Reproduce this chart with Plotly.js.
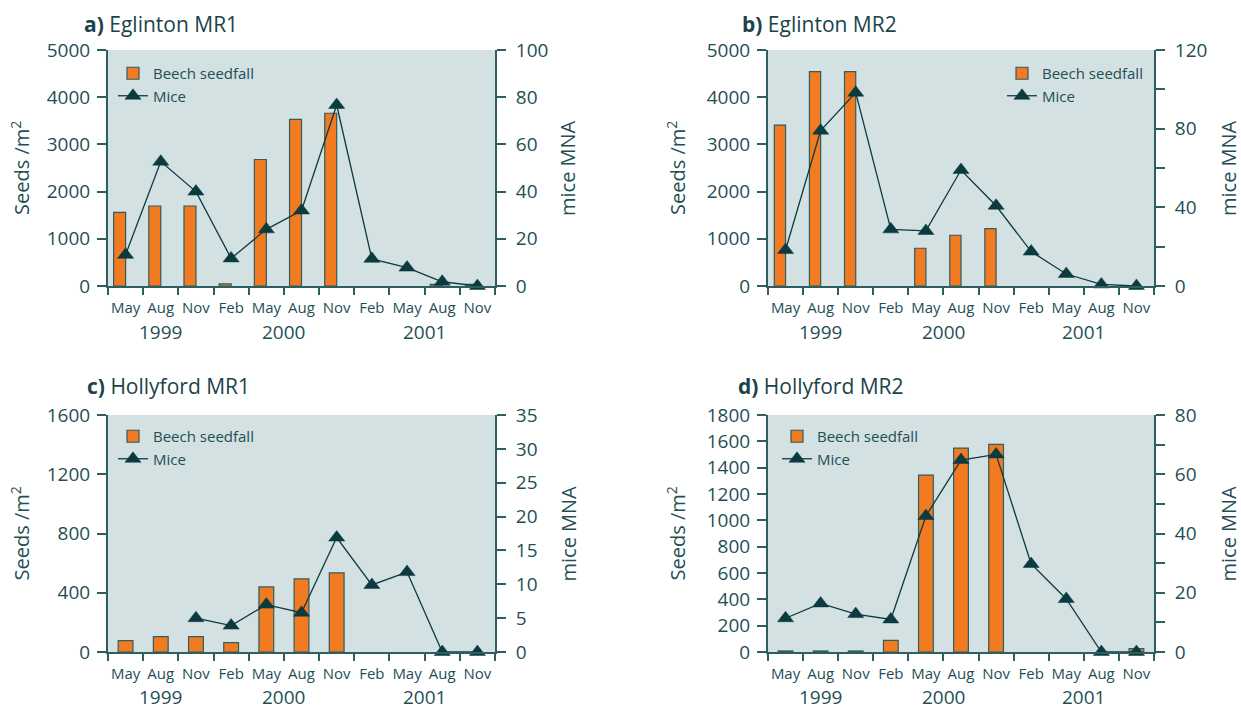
<!DOCTYPE html>
<html>
<head>
<meta charset="utf-8">
<script src="https://cdn.plot.ly/plotly-3.0.1.min.js"></script>
<style>html,body{margin:0;padding:0;background:#fff;}#chart{width:1241px;height:711px;}</style>
</head>
<body>
<div id="chart"></div>
<script>
// ---------- data ----------
const months = ['May','Aug','Nov','Feb','May','Aug','Nov','Feb','May','Aug','Nov'];
const years  = [1999,1999,1999,2000,2000,2000,2000,2001,2001,2001,2001];

const panelTitles = ['a)|Eglinton MR1','b)|Eglinton MR2','c)|Hollyford MR1','d)|Hollyford MR2'];

const seedsA = [1560, 1695, 1695, 45, 2680, 3530, 3660, null, null, 35, 35];
const miceA  = [13.2, 52.7, 40, 11.7, 24, 32, 76.7, 11.5, 7.8, 1.8, 0];

const seedsB = [3410, 4540, 4540, null, 800, 1075, 1215, null, null, null, null];
const miceB  = [18.3, 79, 98.3, 28.8, 28, 59, 40.8, 17.5, 6.1, 0.8, 0];

const seedsC = [77, 104, 104, 63, 439, 494, 534, null, null, null, null];
const miceC  = [null, null, 5.0, 3.9, 7.0, 5.8, 16.9, 9.9, 11.8, 0, 0];

const seedsD = [8, 8, 8, 89, 1344, 1549, 1577, null, null, null, 25];
const miceD  = [11.4, 16.4, 12.8, 11, 45.9, 64.8, 66.7, 29.7, 17.9, 0, 0];

const seedName = 'Beech seedfall';
const miceName = 'Mice';
const leftTitle = 'Seeds /m<sup>2</sup>';
const rightTitle = 'mice MNA';

// ---------- styling / layout ----------
const W = 1241, H = 711;
const px = v => v / W;
const py = v => 1 - v / H;

const FONT = '"Open Sans", "Noto Sans", sans-serif';
const TXT = '#1f4f55';
const AX = '#2e5d62';
const BG = '#d3e1e3';
const ORANGE = '#f27a20';
const MICE = '#0c3b3f';

const panels = [
  {seeds: seedsA, mice: miceA, sMax: 5000, sTick: 1000, mMax: 100, mTick: 20, mLab: 20,
   bw: 0.34, bo: -0.34, x0: 108, x1: 495, y0: 50, y1: 286, titleX: 82, titleY: 24,
   lTx: 20, rTx: 567, legX: 113, legY: 57, yearY: 332},
  {seeds: seedsB, mice: miceB, sMax: 5000, sTick: 1000, mMax: 120, mTick: 20, mLab: 40,
   bw: 0.32, bo: -0.32, x0: 768, x1: 1154, y0: 50, y1: 286, titleX: 740, titleY: 24,
   lTx: 676, rTx: 1228, legX: 1002, legY: 57, yearY: 332},
  {seeds: seedsC, mice: miceC, sMax: 1600, sTick: 400, mMax: 35, mTick: 5, mLab: 5,
   bw: 0.42, bo: null, x0: 108, x1: 495, y0: 415, y1: 652, titleX: 85, titleY: 386,
   lTx: 20, rTx: 568, legX: 113, legY: 420, yearY: 697},
  {seeds: seedsD, mice: miceD, sMax: 1800, sTick: 200, mMax: 80, mTick: 10, mLab: 20,
   bw: 0.42, bo: null, x0: 768, x1: 1154, y0: 415, y1: 652, titleX: 736, titleY: 386,
   lTx: 676, rTx: 1228, legX: 777, legY: 420, yearY: 697}
];

const xIdx = months.map((_, i) => i);
const traces = [];
const layout = {
  width: W, height: H,
  margin: {l: 0, r: 0, t: 0, b: 0},
  paper_bgcolor: '#ffffff',
  font: {family: FONT, color: TXT},
  showlegend: true,
  annotations: [],
  shapes: [],
  bargap: 0
};

function range(max, step) {
  const out = [];
  for (let v = 0; v <= max + 1e-9; v += step) out.push(+v.toFixed(6));
  return out;
}

// year label centres: mean index of the months belonging to each year
const yearList = [...new Set(years)];
const yearCentres = yearList.map(y => {
  const idx = xIdx.filter(i => years[i] === y);
  return idx.reduce((a, b) => a + b, 0) / idx.length;
});

panels.forEach((p, k) => {
  const n = k + 1;
  const xa = n === 1 ? 'x' : 'x' + n;
  const yl = 'y' + (2 * n - 1 === 1 ? '' : 2 * n - 1);
  const yr = 'y' + (2 * n);
  const leg = n === 1 ? 'legend' : 'legend' + n;

  const bar = {
    type: 'bar', x: xIdx, y: p.seeds, xaxis: xa, yaxis: yl, name: seedName,
    width: p.bw,
    marker: {color: ORANGE, line: {color: AX, width: 1.2}},
    legend: leg, hoverinfo: 'skip'
  };
  if (p.bo !== null) bar.offset = p.bo;
  traces.push(bar);

  traces.push({
    type: 'scatter', mode: 'lines+markers', x: xIdx, y: p.mice, xaxis: xa, yaxis: yr,
    name: miceName, connectgaps: false, cliponaxis: false,
    line: {color: MICE, width: 1.3},
    marker: {symbol: 'triangle-up', size: 14, color: MICE, line: {color: MICE, width: 0.5}},
    legend: leg, hoverinfo: 'skip'
  });

  const xName = n === 1 ? 'xaxis' : 'xaxis' + n;
  const ylName = 'yaxis' + (2 * n - 1 === 1 ? '' : 2 * n - 1);
  const yrName = 'yaxis' + (2 * n);

  layout[xName] = {
    domain: [px(p.x0), px(p.x1)], anchor: yl, range: [-0.5, months.length - 0.5],
    tickmode: 'array', tickvals: xIdx, ticktext: months,
    ticks: 'outside', ticklen: 7, tickcolor: 'rgba(0,0,0,0)',
    tickfont: {size: 15, color: TXT, family: FONT},
    minor: {tick0: -0.5, dtick: 1, ticks: 'outside', ticklen: 7, tickwidth: 2, tickcolor: AX, showgrid: false},
    showline: true, linecolor: AX, linewidth: 2, showgrid: false, zeroline: false, fixedrange: true
  };
  layout[ylName] = {
    domain: [py(p.y1), py(p.y0)], anchor: xa, range: [0, p.sMax],
    tickmode: 'array', tickvals: range(p.sMax, p.sTick),
    ticks: 'outside', ticklen: 9, tickwidth: 2, tickcolor: AX,
    tickfont: {size: 19, color: TXT, family: FONT}, ticklabelstandoff: 3,
    showline: true, linecolor: AX, linewidth: 2, showgrid: false, zeroline: false, fixedrange: true
  };
  const yrAxis = {
    overlaying: yl, side: 'right', anchor: xa, range: [0, p.mMax],
    tickmode: 'array', tickvals: range(p.mMax, p.mLab),
    ticks: 'outside', ticklen: 9, tickwidth: 2, tickcolor: AX,
    tickfont: {size: 19, color: TXT, family: FONT}, ticklabelstandoff: 6,
    showline: true, linecolor: AX, linewidth: 2, showgrid: false, zeroline: false, fixedrange: true
  };
  if (p.mTick !== p.mLab) {
    yrAxis.minor = {tick0: 0, dtick: p.mTick, ticks: 'outside', ticklen: 9, tickwidth: 2, tickcolor: AX, showgrid: false};
  }
  layout[yrName] = yrAxis;

  layout.shapes.push({type: 'rect', xref: 'paper', yref: 'paper', layer: 'below',
    x0: px(p.x0), x1: px(p.x1), y0: py(p.y1), y1: py(p.y0), fillcolor: BG, line: {width: 0}});

  layout[leg] = {
    x: px(p.legX), y: py(p.legY), xanchor: 'left', yanchor: 'top',
    bgcolor: 'rgba(0,0,0,0)', borderwidth: 0, itemwidth: 30, tracegroupgap: 0,
    font: {size: 15, color: TXT, family: FONT}, traceorder: 'normal'
  };

  const [tag, name] = panelTitles[k].split('|');
  layout.annotations.push({
    xref: 'paper', yref: 'paper', x: px(p.titleX), y: py(p.titleY), xanchor: 'left', yanchor: 'middle',
    text: '<b>' + tag + '</b> ' + name, showarrow: false, font: {size: 21, color: '#1a444a', family: FONT}
  });
  layout.annotations.push({
    xref: 'paper', yref: 'paper', x: px(p.lTx), y: py((p.y0 + p.y1) / 2), xanchor: 'center', yanchor: 'middle',
    text: leftTitle, textangle: -90, showarrow: false, font: {size: 20, color: TXT, family: FONT}
  });
  layout.annotations.push({
    xref: 'paper', yref: 'paper', x: px(p.rTx), y: py((p.y0 + p.y1) / 2), xanchor: 'center', yanchor: 'middle',
    text: rightTitle, textangle: -90, showarrow: false, font: {size: 20, color: TXT, family: FONT}
  });
  yearList.forEach((y, j) => {
    layout.annotations.push({
      xref: xa, yref: 'paper', x: yearCentres[j], y: py(p.yearY), xanchor: 'center', yanchor: 'middle',
      text: String(y), showarrow: false, font: {size: 19, color: TXT, family: FONT}
    });
  });
});

Plotly.newPlot('chart', traces, layout, {staticPlot: true, displayModeBar: false});
</script>
</body>
</html>
